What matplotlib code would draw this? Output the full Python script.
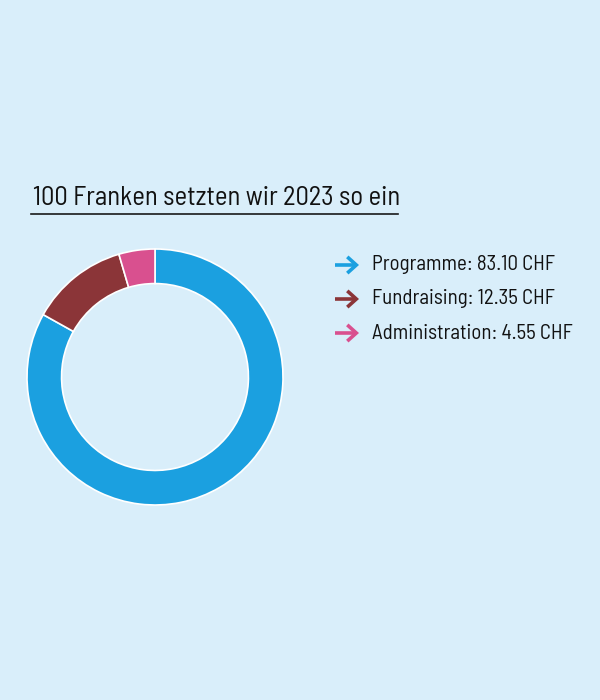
import matplotlib
matplotlib.use("Agg")
import matplotlib.pyplot as plt
from matplotlib.patches import FancyArrowPatch

categories = ["Programme", "Fundraising", "Administration"]
values = [83.10, 12.35, 4.55]
colors = ["#1BA0E0", "#8B3538", "#D9508F"]
title = "100 Franken setzten wir 2023 so ein"

fam = ["Barlow Semi Condensed", "Asap Condensed", "DejaVu Sans"]

W, H = 600, 700
fig = plt.figure(figsize=(W / 100, H / 100), dpi=100)
bg = "#D9EEFA"
fig.patch.set_facecolor(bg)

# donut
cx, cy, R = 155, 377, 128
ax = fig.add_axes([(cx - R) / W, 1 - (cy + R) / H, 2 * R / W, 2 * R / H])
ax.pie(values, colors=colors, startangle=90, counterclock=False,
       wedgeprops=dict(width=0.27, edgecolor="white", linewidth=1.2))
ax.set_aspect("equal")
ax.set_xlim(-1, 1)
ax.set_ylim(-1, 1)
ax.axis("off")

# title
fig.text(33 / W, 1 - 205 / H, title, fontsize=19.2, family=fam, color="#111111",
         fontweight="normal", ha="left", va="baseline")
fig.add_artist(plt.Line2D([31 / W, 398 / W], [1 - 214 / H, 1 - 214 / H],
                          color="#1a1a1a", lw=1.2))

# legend
ys = [265, 299, 333]
for name, v, c, y in zip(categories, values, colors, ys):
    fig.add_artist(FancyArrowPatch(
        (335 / W, 1 - y / H), (359 / W, 1 - y / H), transform=fig.transFigure,
        arrowstyle="->,head_length=5,head_width=4.5", color=c, lw=2.6,
        mutation_scale=1.3, shrinkA=0, shrinkB=0, joinstyle="miter",
        capstyle="butt"))
    fig.text(372 / W, 1 - y / H, f"{name}: {v:.2f}\u2009CHF", fontsize=15,
             family=fam, color="#111111", fontweight="normal",
             ha="left", va="center")

fig.savefig("out.png", dpi=100, facecolor=bg)
